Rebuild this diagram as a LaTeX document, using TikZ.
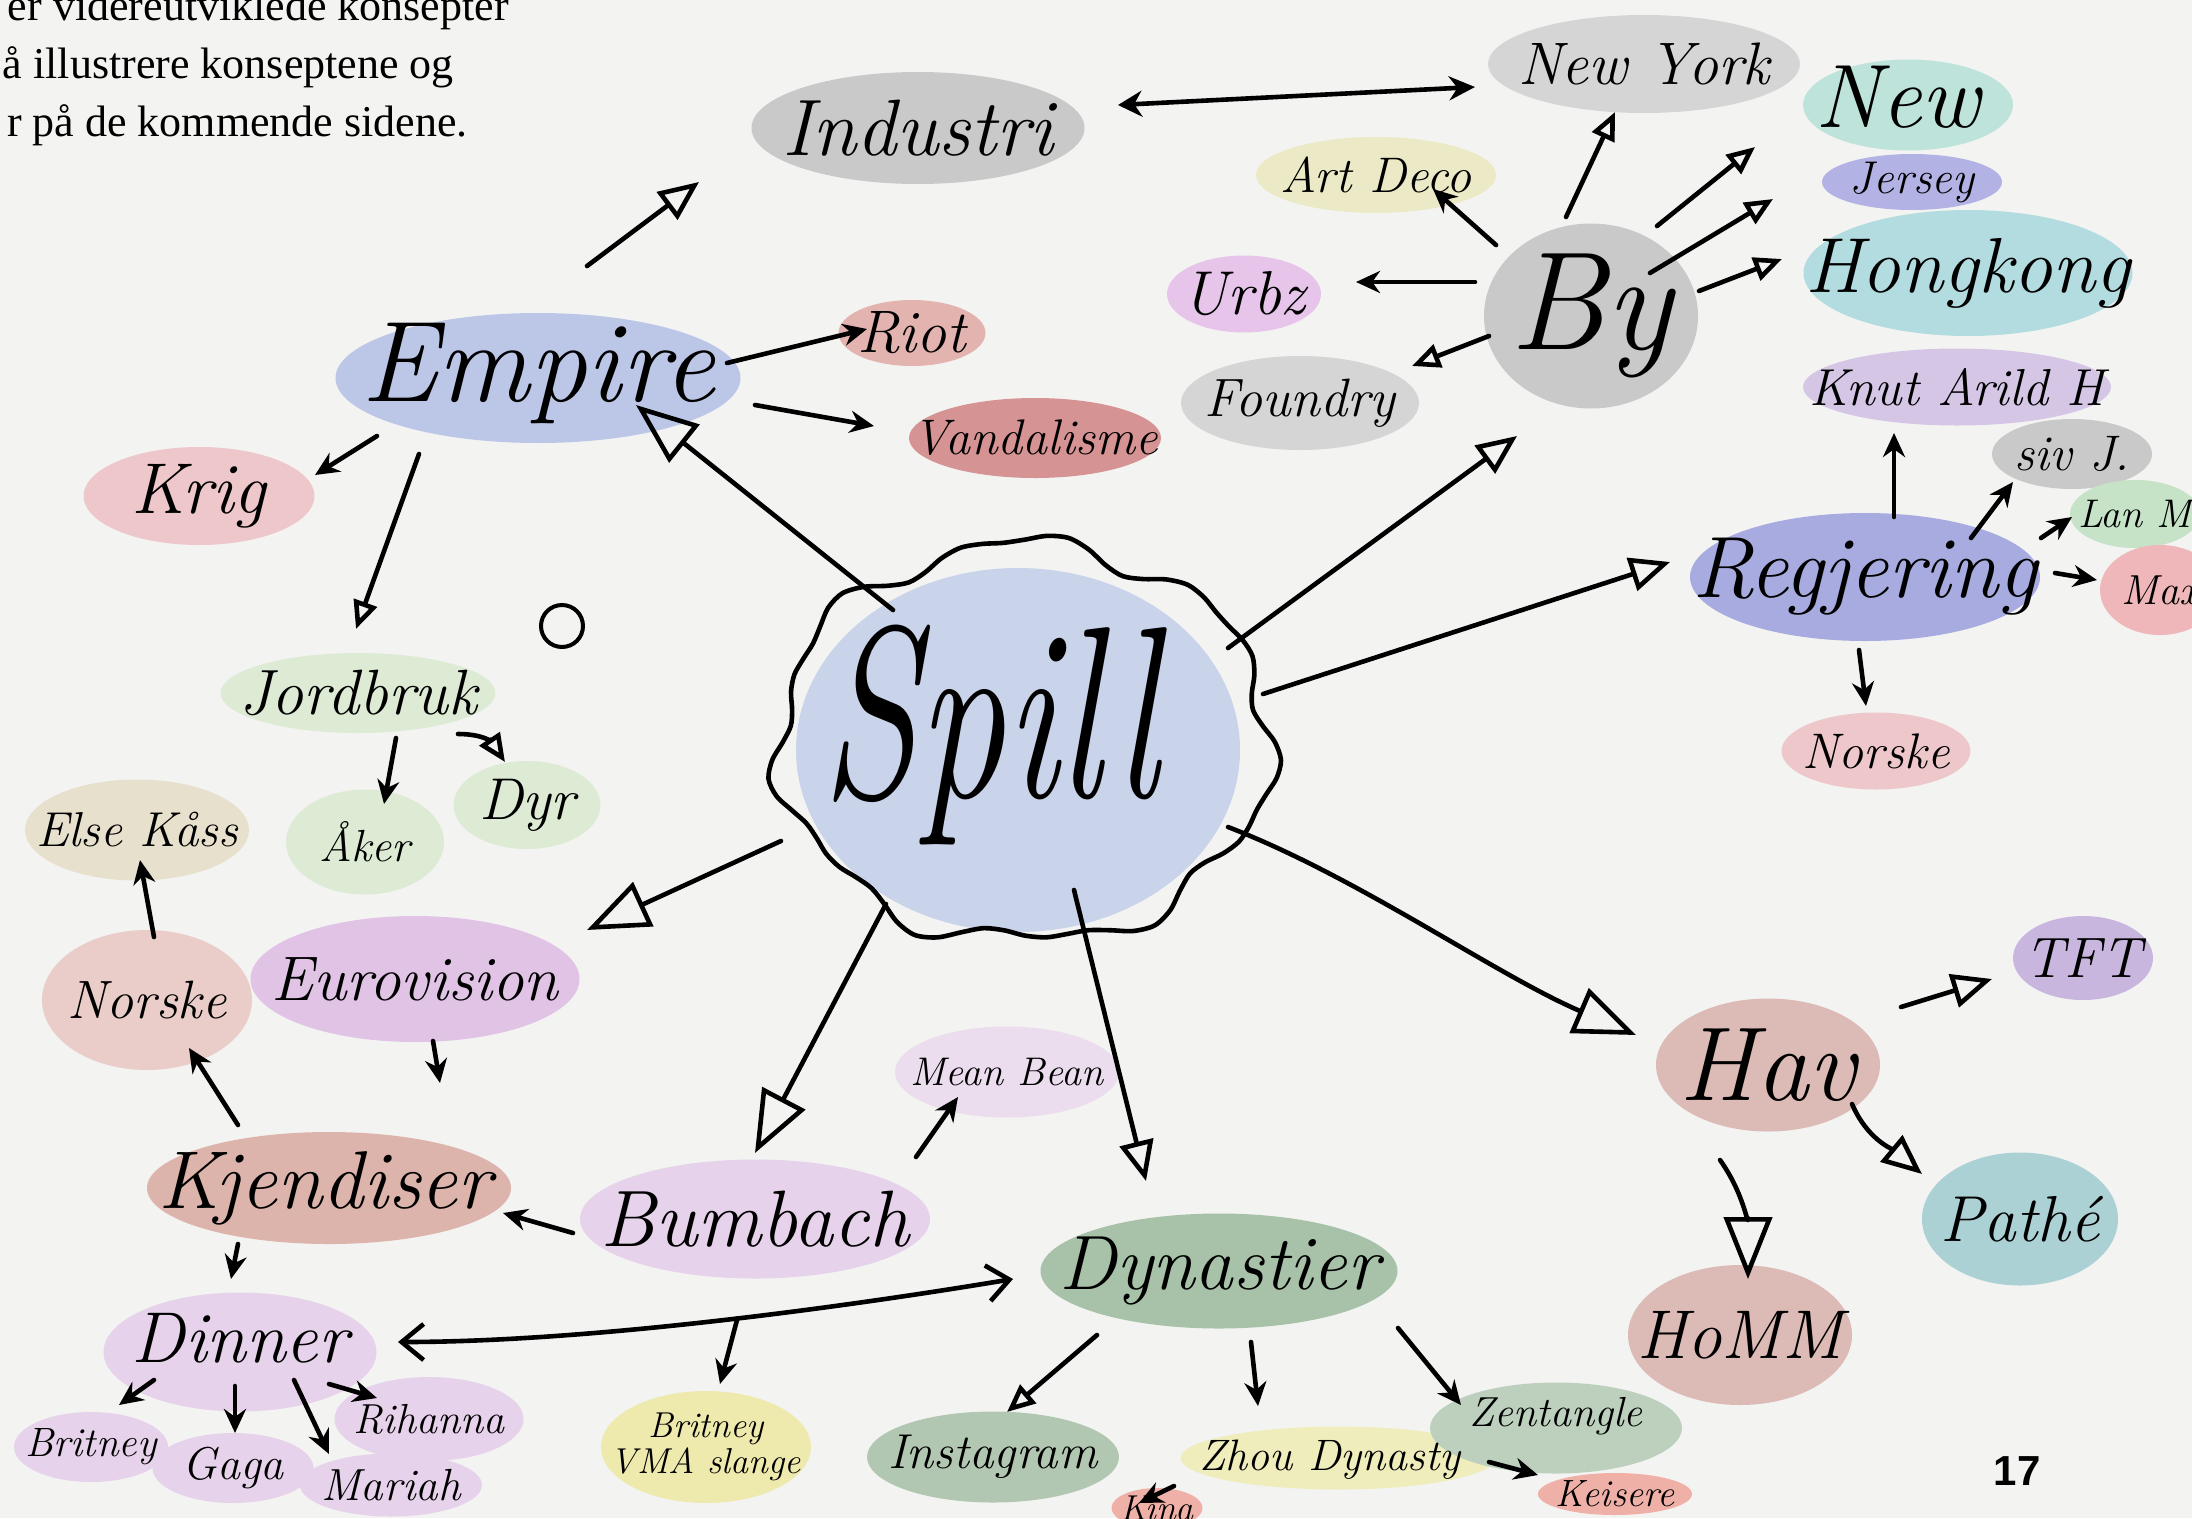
\documentclass[tikz,border=0pt]{standalone}
\usepackage{fontspec}
\newfontfamily\topserif{Liberation Serif}
\newfontfamily\pgnum{Liberation Sans}
\usetikzlibrary{arrows.meta,calc,shapes.geometric}
\pgfdeclarelayer{paper}
\pgfdeclarelayer{bg}
\pgfsetlayers{paper,bg,main}
\definecolor{paper}{HTML}{F3F3F2}
\definecolor{cspill}{HTML}{C9D3EA}
\definecolor{cgrey}{HTML}{C9C9C9}
\definecolor{cgreyl}{HTML}{D5D5D5}
\definecolor{cyel}{HTML}{ECEAC6}
\definecolor{cpink}{HTML}{E7C5EA}
\definecolor{cteal}{HTML}{BDE3DA}
\definecolor{cjer}{HTML}{B3B2E4}
\definecolor{cteal2}{HTML}{B2DCDF}
\definecolor{cpurl}{HTML}{D5C6E6}
\definecolor{cgreen}{HTML}{C6E3C8}
\definecolor{cred}{HTML}{EFB7B9}
\definecolor{creg}{HTML}{A7ABE0}
\definecolor{cpinkred}{HTML}{EEC7CA}
\definecolor{cblue}{HTML}{BCC6E6}
\definecolor{cred2}{HTML}{E3B3B0}
\definecolor{cred3}{HTML}{D69393}
\definecolor{cgreenl}{HTML}{DDEBD5}
\definecolor{cbeige}{HTML}{E6E0CC}
\definecolor{cnorl}{HTML}{EACDC8}
\definecolor{cpurp}{HTML}{E0C3E5}
\definecolor{ckjen}{HTML}{DDB4AC}
\definecolor{cpurpl}{HTML}{E6D2EA}
\definecolor{cpurpl2}{HTML}{EBDDEE}
\definecolor{cyel2}{HTML}{EEE9AC}
\definecolor{cdyn}{HTML}{A8C2A9}
\definecolor{cinsta}{HTML}{B2C7B1}
\definecolor{cyel3}{HTML}{EFEDBC}
\definecolor{czen}{HTML}{BDD0BD}
\definecolor{cred4}{HTML}{EFB0A8}
\definecolor{chav}{HTML}{DCBAB5}
\definecolor{ctft}{HTML}{C9B6DE}
\definecolor{cpathe}{HTML}{ABD1D5}
\newcommand{\hwf}[1]{\fontsize{#1}{#1}\selectfont\itshape}
% name, x, y, width, height, colour, font size, text, text shift
\newcommand{\mmblob}[9]{%
  \begin{pgfonlayer}{bg}\node[blobst, fill=#6, minimum width=#4, minimum height=#5] (#1) at (#2,#3) {};\end{pgfonlayer}%
  \node[txt, font=\hwf{#7}] (#1t) at ([shift={(#9)}]#1.center) {#8};}
\tikzset{
  blobst/.style={ellipse, draw=none, inner sep=0pt},
  txt/.style={inner sep=0pt, align=center, text=black},
  con/.style={line width=4.6pt, line cap=round, line join=round, black},
  otrib/.style={-{Triangle[open, length=62pt, width=48pt]}},
  otrim/.style={-{Triangle[open, length=40pt, width=34pt]}},
  otris/.style={-{Triangle[open, length=28pt, width=24pt]}},
  stl/.style={-{Stealth[length=24pt, width=22pt]}},
  topt/.style={inner sep=0pt, font=\topserif\fontsize{44}{50}\selectfont}
}
\begin{document}
\begin{tikzpicture}[x=1pt, y=-1pt]
\begin{pgfonlayer}{paper}\fill[paper] (0,0) rectangle (2192,1518);\end{pgfonlayer}
\useasboundingbox (0,0) rectangle (2192,1518);
\clip (0,0) rectangle (2192,1518);

% top text
\node[topt, anchor=base east] (l1) at (509,20) {er videreutviklede konsepter};
\node[topt, anchor=base east] (l2) at (454,78) {å illustrere konseptene og};
\node[topt, anchor=base east] (l3) at (468,136) {r på de kommende sidene.};

% centre
\begin{pgfonlayer}{bg}\node[blobst, fill=cspill, minimum width=444, minimum height=364] (spill) at (1018,750) {};\end{pgfonlayer}
\node[txt, font=\hwf{175}] (spillt) at (990,735) {\scalebox{1}[1.4]{Spill}};
\draw[line width=4.6pt] plot[smooth cycle, samples=72, domain=0:355]
  ({1025+(246+9*sin(7*\x)+6*sin(13*\x+40))*cos(\x)}, {742+(198+9*sin(7*\x)+6*sin(13*\x+40))*sin(\x)});

% nodes
\mmblob{ind}{918}{128}{333}{112}{cgrey}{80}{Industri}{0,0}
\mmblob{ny}{1644}{64}{312}{98}{cgreyl}{60}{New York}{0,0}
\mmblob{art}{1376}{175}{240}{76}{cyel}{50}{Art Deco}{0,0}
\mmblob{urbz}{1244}{294}{154}{77}{cpink}{62}{Urbz}{0,0}
\mmblob{found}{1300}{403}{238}{94}{cgreyl}{54}{Foundry}{0,0}
\mmblob{by}{1591}{316}{214}{185}{cgrey}{140}{By}{0,0}
\mmblob{new}{1908}{105}{210}{91}{cteal}{90}{New}{-10,-8}
\mmblob{jersey}{1912}{182}{180}{56}{cjer}{46}{Jersey}{0,0}
\mmblob{hk}{1968}{273}{329}{126}{cteal2}{78}{Hongkong}{0,0}
\mmblob{knut}{1957}{387}{308}{77}{cpurl}{52}{Knut Arild H}{0,0}
\mmblob{siv}{2072}{454}{160}{70}{cgrey}{50}{siv J.}{0,0}
\mmblob{lan}{2135}{514}{130}{68}{cgreen}{40}{Lan M}{0,0}
\mmblob{max}{2160}{590}{120}{90}{cred}{42}{Max}{0,0}
\mmblob{reg}{1865}{577}{350}{128}{creg}{87}{Regjering}{0,0}
\mmblob{norr}{1876}{751}{189}{77}{cpinkred}{50}{Norske}{0,0}
\mmblob{emp}{538}{378}{405}{130}{cblue}{115}{Empire}{0,-5}
\mmblob{riot}{912}{333}{147}{66}{cred2}{60}{Riot}{0,0}
\mmblob{vand}{1035}{438}{252}{80}{cred3}{50}{Vandalisme}{0,0}
\mmblob{krig}{199}{496}{231}{98}{cpinkred}{72}{Krig}{0,0}
\mmblob{jord}{358}{693}{275}{80}{cgreenl}{64}{Jordbruk}{0,0}
\mmblob{aker}{365}{842}{158}{105}{cgreenl}{45}{Åker}{0,0}
\mmblob{dyr}{527}{805}{147}{88}{cgreenl}{59}{Dyr}{0,0}
\mmblob{else}{137}{830}{224}{101}{cbeige}{49}{Else Kåss}{0,0}
\mmblob{norl}{147}{1000}{210}{140}{cnorl}{54}{Norske}{0,0}
\mmblob{euro}{415}{979}{329}{126}{cpurp}{63}{Eurovision}{0,0}
\mmblob{kjen}{329}{1188}{364}{112}{ckjen}{82}{Kjendiser}{-4,0}
\mmblob{bum}{755}{1219}{350}{119}{cpurpl}{80}{Bumbach}{0,0}
\mmblob{mean}{1007}{1072}{224}{91}{cpurpl2}{40}{Mean Bean}{0,0}
\mmblob{dinner}{240}{1352}{273}{119}{cpurpl}{72}{Dinner}{0,-14}
\mmblob{brit}{91}{1447}{154}{70}{cpurpl}{41}{Britney}{0,0}
\mmblob{gaga}{233}{1468}{161}{70}{cpurpl}{46}{Gaga}{0,0}
\mmblob{rih}{429}{1419}{189}{84}{cpurpl}{42}{Rihanna}{0,0}
\mmblob{mar}{391}{1485}{182}{63}{cpurpl}{45}{Mariah}{0,0}
\mmblob{vma}{706}{1447}{210}{112}{cyel2}{36}{Britney\\VMA slange}{0,0}
\mmblob{dyn}{1219}{1271}{357}{115}{cdyn}{77}{Dynastier}{0,0}
\mmblob{insta}{993}{1457}{252}{91}{cinsta}{49}{Instagram}{0,0}
\mmblob{zhou}{1338}{1458}{315}{63}{cyel3}{44}{Zhou Dynasty}{-8,2}
\mmblob{zen}{1556}{1428}{252}{91}{czen}{42}{Zentangle}{0,-12}
\mmblob{keis}{1615}{1494}{154}{42}{cred4}{38}{Keisere}{0,0}
\mmblob{kina}{1157}{1508}{91}{40}{cred4}{36}{Kina}{0,0}
\mmblob{hav}{1768}{1065}{224}{133}{chav}{105}{Hav}{0,0}
\mmblob{tft}{2083}{958}{140}{84}{ctft}{57}{TFT}{0,0}
\mmblob{pathe}{2020}{1219}{196}{133}{cpathe}{65}{Pathé}{0,0}
\mmblob{homm}{1740}{1335}{224}{140}{chav}{69}{HoMM}{0,0}

\node[inner sep=0pt, font=\pgnum\bfseries\fontsize{42}{42}\selectfont] (pg) at (2017,1471) {17};
\draw[line width=4pt] (562,626) circle [radius=21];

% spill connectors
\draw[con, otrib] ([shift={(-125,-140)}]spill.center) -- ([shift={(98,27)}]emp.center);
\draw[con, otrim] ([shift={(210,-102)}]spill.center) -- ([shift={(-74,120)}]by.center);
\draw[con, otrim] ([shift={(245,-56)}]spill.center) -- ([shift={(-195,-15)}]reg.center);
\draw[con, otrib] ([shift={(210,77)}]spill.center) .. controls +(130,50) and +(-140,-60) .. ([shift={(-132,-30)}]hav.center);
\draw[con, otrim] ([shift={(56,140)}]spill.center) -- ([shift={(-73,-90)}]dyn.center);
\draw[con, otrib] ([shift={(-132,154)}]spill.center) -- ([shift={(0,-66)}]bum.center);
\draw[con, otrib] ([shift={(-237,91)}]spill.center) -- ([shift={(172,-49)}]euro.center);

% empire
\draw[con, otrim] ([shift={(49,-112)}]emp.center) -- ([shift={(-219,54)}]ind.center);
\draw[con, {Stealth[length=24pt,width=26pt]}-{Stealth[length=26pt,width=24pt]}] ([shift={(200,-23)}]ind.center) -- ([shift={(-169,23)}]ny.center);
\draw[con, stl] ([shift={(189,-15)}]emp.center) -- ([shift={(-45,-4)}]riot.center);
\draw[con, stl] ([shift={(217,27)}]emp.center) -- ([shift={(-161,-12)}]vand.center);
\draw[con, stl] ([shift={(-161,58)}]emp.center) -- ([shift={(116,-21)}]krig.center);
\draw[con, otris] ([shift={(-119,76)}]emp.center) -- ([shift={(-2,-64)}]jord.center);
\draw[con, stl] ([shift={(38,45)}]jord.center) -- ([shift={(19,-38)}]aker.center);
\draw[con, otris] ([shift={(100,41)}]jord.center) .. controls +(28,0) and +(-12,-18) .. ([shift={(-22,-43)}]dyr.center);

% left side
\draw[con, stl] ([shift={(18,62)}]euro.center) -- ([shift={(111,-105)}]kjen.center);
\draw[con, stl] ([shift={(-91,-63)}]kjen.center) -- ([shift={(42,48)}]norl.center);
\draw[con, stl] ([shift={(7,-63)}]norl.center) -- ([shift={(3,30)}]else.center);
\draw[con, stl] ([shift={(-182,14)}]bum.center) -- ([shift={(174,25)}]kjen.center);
\draw[con, stl] ([shift={(161,-62)}]bum.center) -- ([shift={(-49,25)}]mean.center);
\draw[con, stl] ([shift={(-91,56)}]kjen.center) -- ([shift={(-9,-73)}]dinner.center);
\draw[con, {Straight Barb[length=22pt,width=36pt]}-{Straight Barb[length=22pt,width=36pt]}] ([shift={(158,-10)}]dinner.center) .. controls +(200,0) and +(-150,25) .. coordinate[pos=0.52] (br) ([shift={(-206,8)}]dyn.center);
\draw[con, stl] (br) -- ([shift={(14,-63)}]vma.center);
\draw[con, stl] ([shift={(-86,28)}]dinner.center) -- ([shift={(28,-42)}]brit.center);
\draw[con, stl] ([shift={(-5,34)}]dinner.center) -- ([shift={(2,-35)}]gaga.center);
\draw[con, stl] ([shift={(54,28)}]dinner.center) -- ([shift={(-62,-31)}]mar.center);
\draw[con, stl] ([shift={(89,32)}]dinner.center) -- ([shift={(-52,-21)}]rih.center);

% dynastier
\draw[con, otris] ([shift={(-122,64)}]dyn.center) -- ([shift={(14,-45)}]insta.center);
\draw[con, stl] ([shift={(32,71)}]dyn.center) -- ([shift={(-80,-52)}]zhou.center);
\draw[con, stl] ([shift={(179,57)}]dyn.center) -- ([shift={(-95,-23)}]zen.center);
\draw[con, stl] ([shift={(151,4)}]zhou.center) -- ([shift={(-77,-19)}]keis.center);
\draw[con, stl] ([shift={(-164,28)}]zhou.center) -- ([shift={(-18,-5)}]kina.center);

% hav
\draw[con, otrim] ([shift={(133,-58)}]hav.center) -- ([shift={(-91,21)}]tft.center);
\draw[con, otrim] ([shift={(84,39)}]hav.center) .. controls +(15,35) and +(-30,-25) .. ([shift={(-98,-45)}]pathe.center);
\draw[con, otrib] ([shift={(-48,95)}]hav.center) .. controls +(25,35) and +(0,-50) .. ([shift={(8,-56)}]homm.center);

% regjering
\draw[con, stl] ([shift={(29,-60)}]reg.center) -- ([shift={(-63,46)}]knut.center);
\draw[con, stl] ([shift={(106,-39)}]reg.center) -- ([shift={(-59,28)}]siv.center);
\draw[con, stl] ([shift={(176,-39)}]reg.center) -- ([shift={(-63,3)}]lan.center);
\draw[con, stl] ([shift={(190,-4)}]reg.center) -- ([shift={(-63,-10)}]max.center);
\draw[con, stl] ([shift={(-6,73)}]reg.center) -- ([shift={(-10,-45)}]norr.center);

% by
\draw[con, otris] ([shift={(-25,-99)}]by.center) -- ([shift={(-29,48)}]ny.center);
\draw[con, stl] ([shift={(-95,-71)}]by.center) -- ([shift={(57,14)}]art.center);
\draw[con, stl] ([shift={(-116,-34)}]by.center) -- ([shift={(112,-12)}]urbz.center);
\draw[con, otris] ([shift={(-102,20)}]by.center) -- ([shift={(112,-37)}]found.center);
\draw[con, otris] ([shift={(66,-90)}]by.center) -- ([shift={(-153,42)}]new.center);
\draw[con, otris] ([shift={(59,-43)}]by.center) -- ([shift={(-139,17)}]jersey.center);
\draw[con, otris] ([shift={(108,-25)}]by.center) -- ([shift={(-186,-14)}]hk.center);
\end{tikzpicture}
\end{document}
